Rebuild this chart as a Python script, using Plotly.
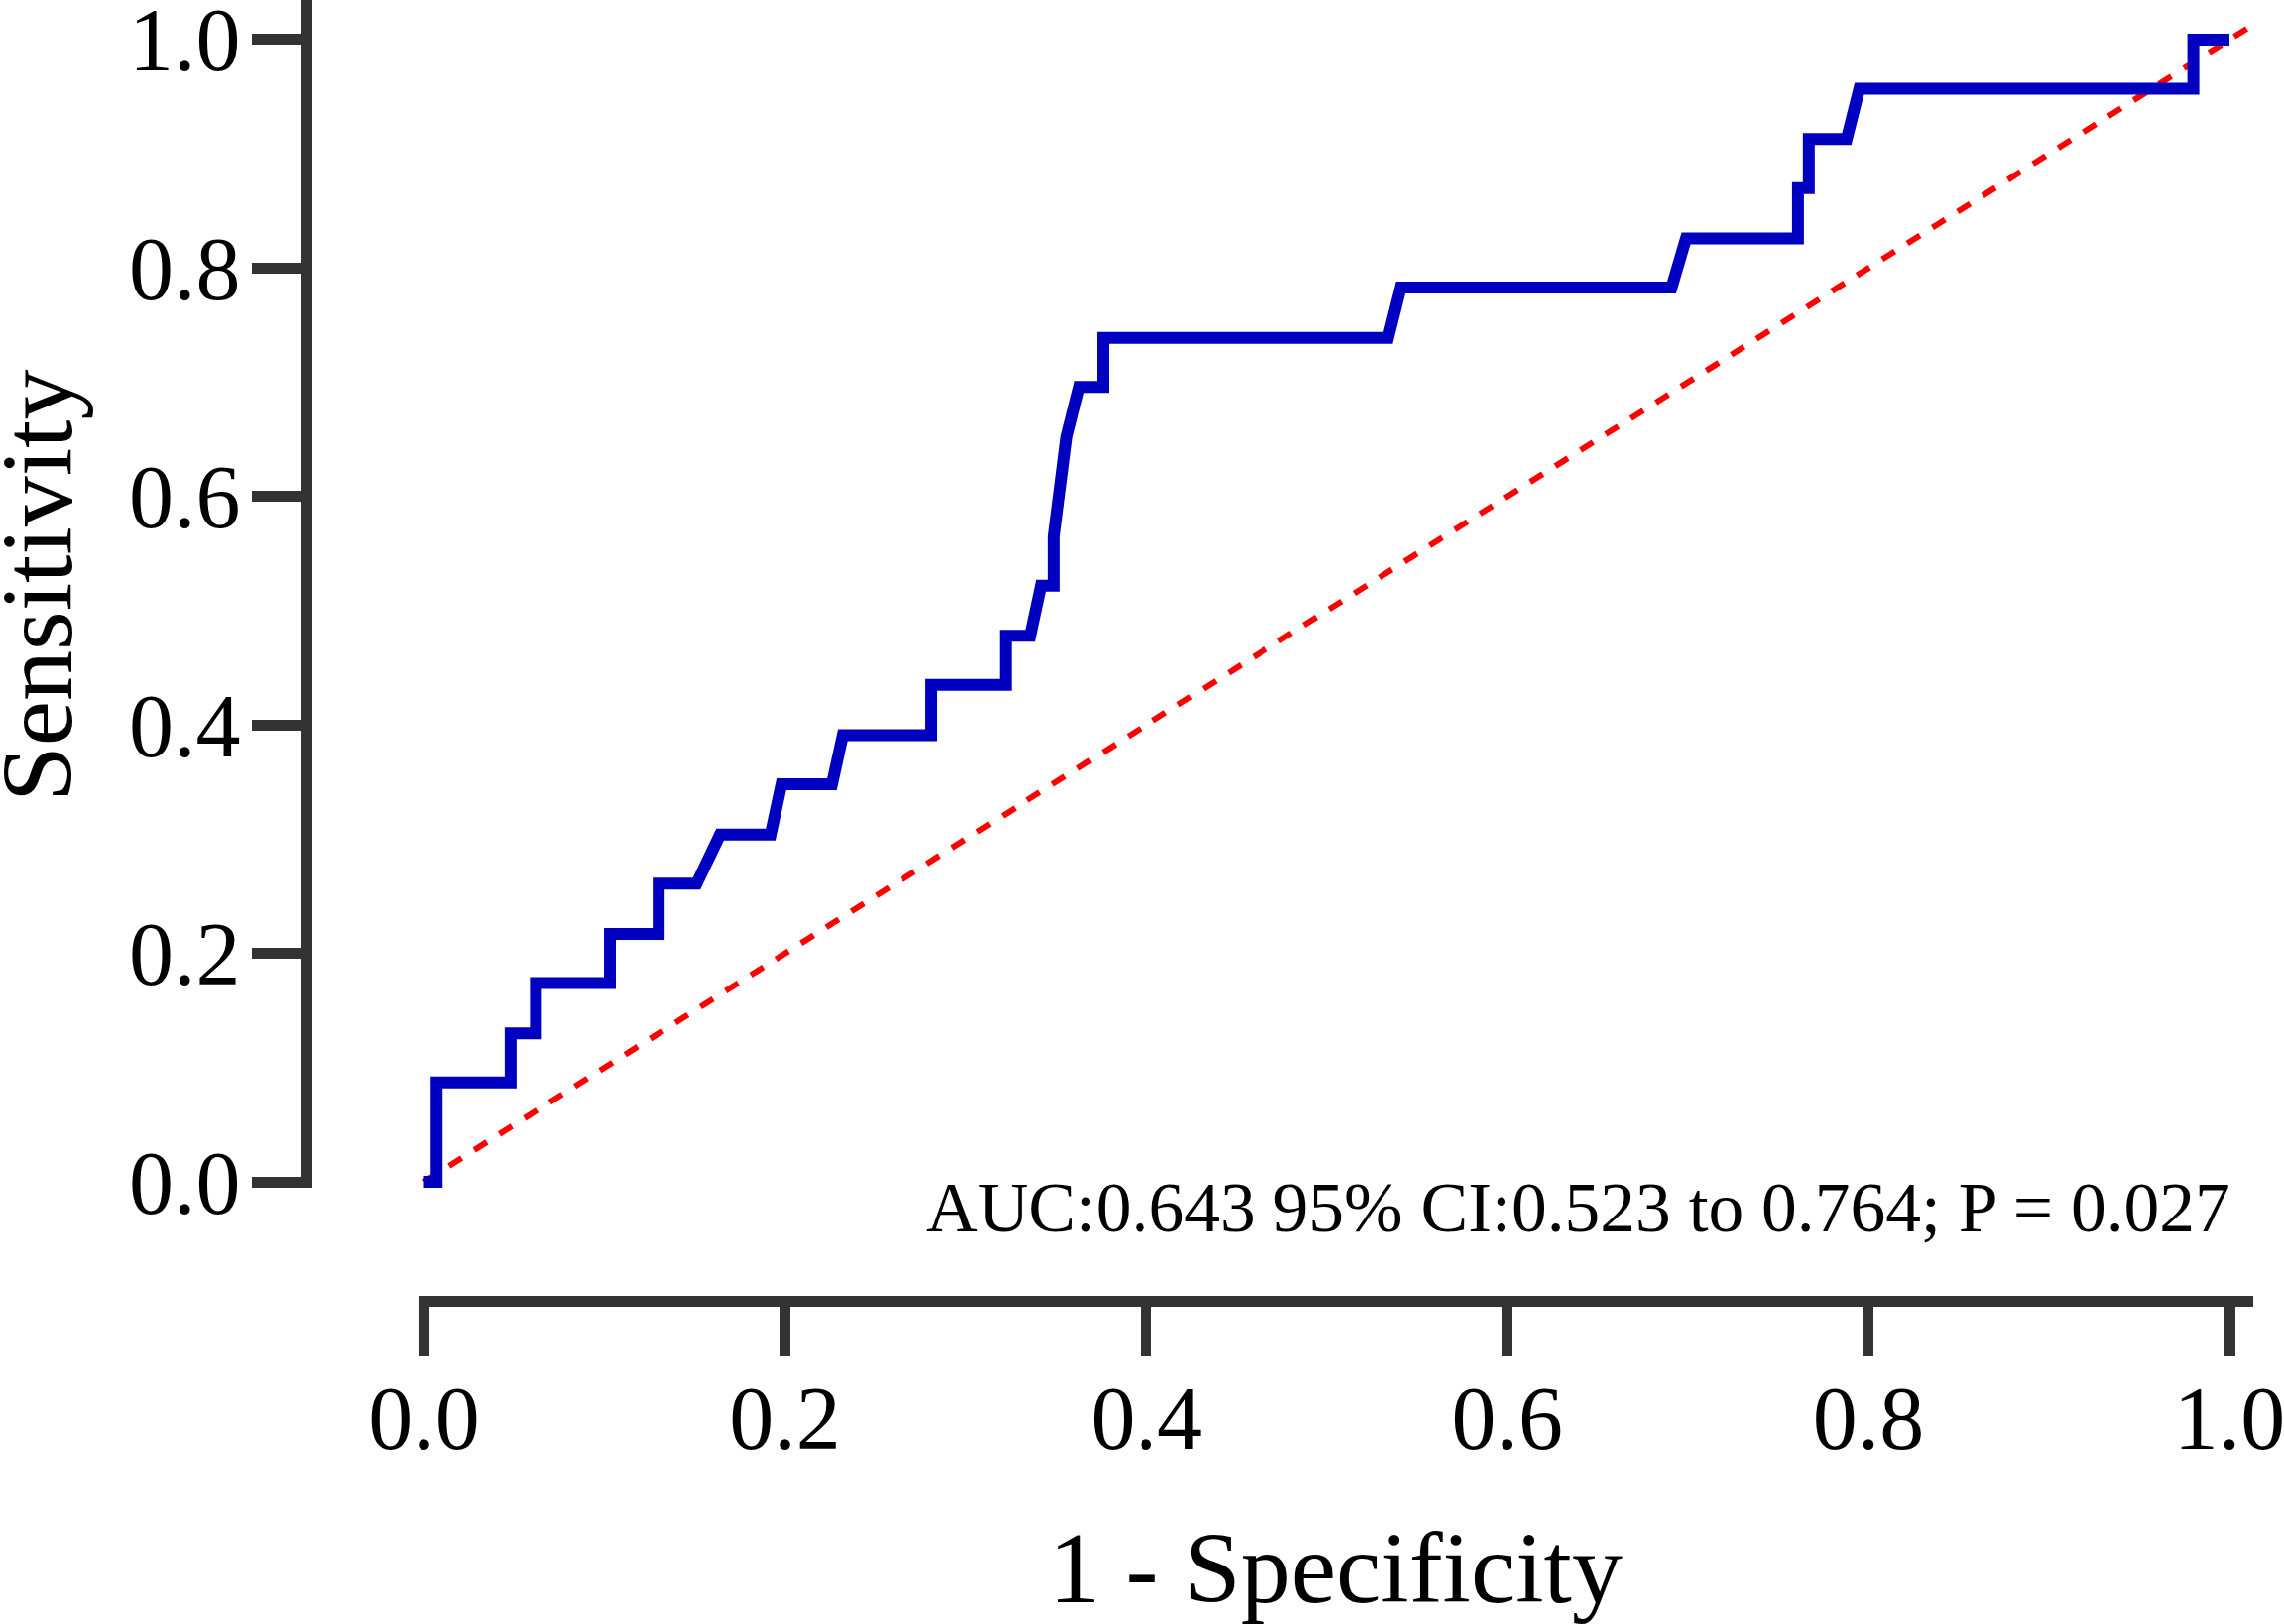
import plotly.graph_objects as go

# ROC curve points (1 - specificity, sensitivity)
fpr = [0.000, 0.007, 0.007, 0.048, 0.048, 0.062, 0.062, 0.103, 0.103, 0.130,
       0.130, 0.151, 0.164, 0.192, 0.198, 0.226, 0.232, 0.281, 0.281, 0.322,
       0.322, 0.336, 0.342, 0.349, 0.349, 0.356, 0.363, 0.376, 0.376, 0.534,
       0.541, 0.691, 0.699, 0.761, 0.761, 0.767, 0.767, 0.788, 0.795, 0.980,
       0.980, 1.000]
tpr = [0.000, 0.000, 0.087, 0.087, 0.130, 0.130, 0.174, 0.174, 0.217, 0.217,
       0.261, 0.261, 0.304, 0.304, 0.348, 0.348, 0.391, 0.391, 0.435, 0.435,
       0.478, 0.478, 0.522, 0.522, 0.565, 0.652, 0.696, 0.696, 0.739, 0.739,
       0.783, 0.783, 0.826, 0.826, 0.870, 0.870, 0.913, 0.913, 0.957, 0.957,
       1.000, 1.000]

# reference (chance) diagonal
diag_x = [0.0, 1.01]
diag_y = [0.0, 1.01]

tick_vals = [0.0, 0.2, 0.4, 0.6, 0.8, 1.0]
tick_text = ["0.0", "0.2", "0.4", "0.6", "0.8", "1.0"]

auc_label = "AUC:0.643 95% CI:0.523 to 0.764; P = 0.027"
x_title = "1 - Specificity"
y_title = "Sensitivity"

W, H = 2303, 1638
FONT = "Liberation Serif, Times New Roman, serif"
AXC = "#333333"

fig = go.Figure()
fig.add_trace(go.Scatter(x=diag_x, y=diag_y, mode="lines",
                         line=dict(color="#FF0000", width=6, dash="15px,15px"),
                         hoverinfo="skip", showlegend=False))
fig.add_trace(go.Scatter(x=fpr, y=tpr, mode="lines",
                         line=dict(color="#0000C0", width=12),
                         showlegend=False))

axis_common = dict(
    anchor="free", automargin=False,
    showline=True, linecolor=AXC, linewidth=11,
    ticks="outside", ticklen=50, tickwidth=11, tickcolor=AXC,
    tickvals=tick_vals, ticktext=tick_text,
    tickfont=dict(size=90, family=FONT, color="black"),
    ticklabeloverflow="allow",
    showgrid=False, zeroline=False,
)

fig.update_layout(
    template="none",
    width=W, height=H,
    margin=dict(l=0, r=0, t=0, b=0, pad=0, autoexpand=False),
    paper_bgcolor="white", plot_bgcolor="white",
    font=dict(family=FONT, color="black"),
    xaxis=dict(
        domain=[422 / W, 2272 / W],
        range=[-0.00302, 1.01318],
        position=(H - 1311.5) / H,
        ticklabelstandoff=-15,
        title=dict(text=x_title, font=dict(size=102, family=FONT, color="black"),
                   standoff=66),
        **axis_common,
    ),
    yaxis=dict(
        domain=[(H - 1198) / H, 1.0],
        range=[-0.0052, 1.0347],
        position=308.5 / W,
        ticklabelstandoff=-7,
        **axis_common,
    ),
    annotations=[
        dict(text=auc_label, xref="x", yref="paper",
             x=1.0016, y=(H - 1217) / H, xanchor="right", yanchor="middle",
             showarrow=False, font=dict(size=71.5, family=FONT, color="black")),
        dict(text=y_title, xref="paper", yref="paper",
             x=37 / W, y=(H - 591) / H, xanchor="center", yanchor="middle",
             textangle=-90, showarrow=False,
             font=dict(size=102, family=FONT, color="black")),
    ],
)

fig.write_html("out.html", config={"displayModeBar": False},
               post_script="document.body.style.margin='0';")
